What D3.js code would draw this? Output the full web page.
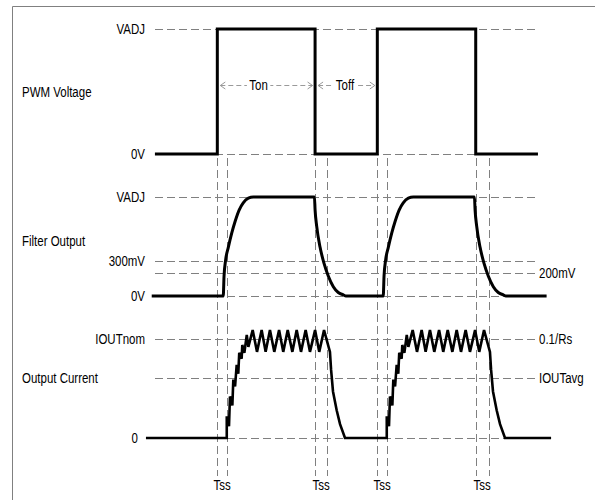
<!DOCTYPE html>
<html>
<head>
<meta charset="utf-8">
<script src="https://cdn.jsdelivr.net/npm/d3@7"></script>
<style>
  body { margin: 0; background: #fff; }
  svg text {
    font-family: "Liberation Sans", Arial, sans-serif;
    font-size: 14px;
    fill: #000;
  }
</style>
</head>
<body>
<div id="chart"></div>
<script>
const width = 595;
const height = 500;

const colorWave = '#000000';
const colorGrid = '#808080';
const colorArrow = '#9a9a9a';
const colorFrame = '#808080';
const narrowFactor = 0.82;  // the original uses a narrow face

// time in arbitrary units, one PWM period = 10
const pwmWave = [
  [0.12, 0], [4.02, 0], [4.02, 1], [10.13, 1], [10.13, 0],
  [14.02, 0], [14.02, 1], [20.17, 1], [20.17, 0], [24.06, 0]
];

// filter output in volts (VADJ taken as 0.85 V)
const filterWave = [
  [-0.08, 0], [4.39, 0], [4.44, 0.17], [4.54, 0.31], [4.71, 0.42], [4.92, 0.54],
  [5.13, 0.64], [5.39, 0.74], [5.64, 0.8], [5.96, 0.84], [6.27, 0.85],
  [10.09, 0.85], [10.13, 0.74], [10.23, 0.6], [10.44, 0.42], [10.69, 0.28],
  [10.96, 0.17], [11.27, 0.08], [11.58, 0.03], [11.89, 0.01], [12.06, 0],
  [14.39, 0], [14.44, 0.17], [14.54, 0.31], [14.71, 0.42], [14.92, 0.54],
  [15.13, 0.64], [15.39, 0.74], [15.64, 0.8], [15.96, 0.84], [16.27, 0.85],
  [20.09, 0.85], [20.13, 0.74], [20.23, 0.6], [20.44, 0.42], [20.69, 0.28],
  [20.96, 0.17], [21.27, 0.08], [21.58, 0.03], [21.89, 0.01], [22.06, 0],
  [24.6, 0]
];

// output current relative to IOUTnom
const currentWave = [
  [-0.44, 0], [4.61, 0], [4.61, 0.22], [4.75, 0.12], [4.81, 0.42], [4.96, 0.33],
  [5.02, 0.59], [5.13, 0.52], [5.23, 0.74], [5.33, 0.65], [5.39, 0.86], [5.54, 0.8],
  [5.58, 0.94], [5.71, 0.86], [5.86, 1.04], [5.96, 0.92], [6.23, 1.09], [6.5, 0.87],
  [6.79, 1.09], [7.04, 0.87], [7.31, 1.09], [7.58, 0.87], [7.88, 1.09], [8.14, 0.87],
  [8.42, 1.09], [8.71, 0.87], [8.98, 1.09], [9.25, 0.87], [9.54, 1.09], [9.81, 0.87],
  [10.13, 1.09], [10.39, 0.87], [10.69, 1.09], [11.06, 0.87], [11.13, 0.69],
  [11.25, 0.47], [11.48, 0.28], [11.69, 0.14], [12.0, 0],
  [14.61, 0], [14.61, 0.22], [14.75, 0.12], [14.81, 0.42], [14.96, 0.33],
  [15.02, 0.59], [15.13, 0.52], [15.23, 0.74], [15.33, 0.65], [15.39, 0.86], [15.54, 0.8],
  [15.58, 0.94], [15.71, 0.86], [15.86, 1.04], [15.96, 0.92], [16.23, 1.09], [16.5, 0.87],
  [16.79, 1.09], [17.04, 0.87], [17.31, 1.09], [17.58, 0.87], [17.88, 1.09], [18.14, 0.87],
  [18.42, 1.09], [18.71, 0.87], [18.98, 1.09], [19.25, 0.87], [19.54, 1.09], [19.81, 0.87],
  [20.13, 1.09], [20.39, 0.87], [20.69, 1.09], [21.06, 0.87], [21.13, 0.69],
  [21.25, 0.47], [21.48, 0.28], [21.69, 0.14], [22.0, 0], [24.88, 0]
];

const pwmLevels = [
  { name: 'VADJ', value: 1, right: false },
  { name: '0V', value: 0, right: false }
];
const filterLevels = [
  { name: 'VADJ', value: 0.85, right: false },
  { name: '300mV', value: 0.3, right: false },
  { name: '200mV', value: 0.2, right: true },
  { name: '0V', value: 0, right: false }
];
const currentLevels = [
  { name: 'IOUTnom', value: 1, right: false },
  { name: '0.1/Rs', value: 1, right: true },
  { name: 'IOUTavg', value: 0.606, right: true },
  { name: '0', value: 0, right: false }
];

const panelNames = ['PWM Voltage', 'Filter Output', 'Output Current'];

// soft-start marker pairs (start, end)
const tssPairs = [[4.02, 4.63], [10.13, 10.88], [14.02, 14.63], [20.17, 20.98]];

const periodArrows = [
  { name: 'Ton', from: 4.02, to: 10.13, textAt: 6.6 },
  { name: 'Toff', from: 10.13, to: 14.02, textAt: 12.0 }
];
const arrowLevel = 0.552;

const svg = d3.select('#chart')
  .append('svg')
  .attr('width', width)
  .attr('height', height);

svg.append('rect')
  .attr('width', width)
  .attr('height', height)
  .attr('fill', '#fff');

// frame
svg.append('path')
  .attr('d', 'M12.5,' + height + 'V6.5H' + width)
  .attr('fill', 'none')
  .attr('stroke', colorFrame)
  .attr('stroke-width', 1);

// put text at (px, py) squeezed horizontally
function placeText(sel, px, py) {
  sel.attr('transform', function (d, i) {
      const tx = typeof px === 'function' ? px(d, i) : px;
      const ty = typeof py === 'function' ? py(d, i) : py;
      return 'translate(' + tx + ',' + ty + ') scale(' + narrowFactor + ',1)';
    });
  return sel;
}

const x = d3.scaleLinear().domain([0, 24]).range([153, 537]);

const panels = [
  { y: d3.scaleLinear().domain([0, 1]).range([154, 29]), levels: pwmLevels, wave: pwmWave, curve: d3.curveLinear, width: 3, nameY: 92 },
  { y: d3.scaleLinear().domain([0, 0.85]).range([296, 197]), levels: filterLevels, wave: filterWave, curve: d3.curveMonotoneX, width: 3, nameY: 241 },
  { y: d3.scaleLinear().domain([0, 1]).range([438, 339]), levels: currentLevels, wave: currentWave, curve: d3.curveLinear, width: 2.6, nameY: 378 }
];

const gridLeft = 155;
const gridRight = 535;

// Tss vertical markers
const tssTop = 158;
const tssBottom = 476;
const tssG = svg.append('g');
tssG.selectAll('line')
  .data(tssPairs.flat())
  .enter()
  .append('line')
  .attr('x1', d => Math.round(x(d)) + 0.5)
  .attr('x2', d => Math.round(x(d)) + 0.5)
  .attr('y1', tssTop)
  .attr('y2', tssBottom)
  .attr('stroke', colorGrid)
  .attr('stroke-width', 1)
  .attr('stroke-dasharray', '8,4');

tssG.selectAll('text')
  .data(tssPairs)
  .enter()
  .append('text')
  .attr('text-anchor', 'middle')
  .call(placeText, d => x((d[0] + d[1]) / 2), 490)
  .text('Tss');

panels.forEach((p, i) => {
  const g = svg.append('g');

  g.selectAll('line.level')
    .data(p.levels.filter(d => !d.right || !p.levels.some(o => !o.right && o.value === d.value)))
    .enter()
    .append('line')
    .attr('class', 'level')
    .attr('x1', gridLeft)
    .attr('x2', gridRight)
    .attr('y1', d => Math.round(p.y(d.value)) + 0.5)
    .attr('y2', d => Math.round(p.y(d.value)) + 0.5)
    .attr('stroke', colorGrid)
    .attr('stroke-width', 1)
    .attr('stroke-dasharray', '8,4');

  g.selectAll('text.level')
    .data(p.levels)
    .enter()
    .append('text')
    .attr('class', 'level')
    .attr('dy', '0.35em')
    .attr('text-anchor', d => d.right ? 'start' : 'end')
    .call(placeText, d => d.right ? 539 : (d.name === '0' ? 138 : 145), d => p.y(d.value))
    .text(d => d.name);

  g.append('text')
    .attr('dy', '0.35em')
    .call(placeText, 22, p.nameY)
    .text(panelNames[i]);

  const line = d3.line()
    .x(d => x(d[0]))
    .y(d => p.y(d[1]))
    .curve(p.curve);

  g.append('path')
    .datum(p.wave)
    .attr('d', line)
    .attr('fill', 'none')
    .attr('stroke', colorWave)
    .attr('stroke-width', p.width)
    .attr('stroke-linejoin', 'miter');
});

// Ton / Toff arrows
const yArrow = Math.round(panels[0].y(arrowLevel)) + 0.5;
const arrowG = svg.append('g');
periodArrows.forEach(a => {
  const x1 = x(a.from) + 3;
  const x2 = x(a.to) - 2.5;
  arrowG.append('line')
    .attr('x1', x1)
    .attr('x2', x2)
    .attr('y1', yArrow)
    .attr('y2', yArrow)
    .attr('stroke', colorArrow)
    .attr('stroke-width', 1)
    .attr('stroke-dasharray', '5,3');
  arrowG.append('path')
    .attr('d', 'M' + (x1 + 5) + ',' + (yArrow - 3.5) + 'L' + x1 + ',' + yArrow + 'L' + (x1 + 5) + ',' + (yArrow + 3.5)
      + 'M' + (x2 - 5) + ',' + (yArrow - 3.5) + 'L' + x2 + ',' + yArrow + 'L' + (x2 - 5) + ',' + (yArrow + 3.5))
    .attr('fill', 'none')
    .attr('stroke', colorArrow)
    .attr('stroke-width', 1);
  const t = arrowG.append('text')
    .attr('dy', '0.35em')
    .attr('text-anchor', 'middle')
    .call(placeText, x(a.textAt), yArrow)
    .text(a.name);
  const bb = t.node().getBBox();
  arrowG.insert('rect', () => t.node())
    .attr('transform', t.attr('transform'))
    .attr('x', bb.x - 3)
    .attr('y', bb.y)
    .attr('width', bb.width + 6)
    .attr('height', bb.height)
    .attr('fill', '#fff');
});
</script>
</body>
</html>
